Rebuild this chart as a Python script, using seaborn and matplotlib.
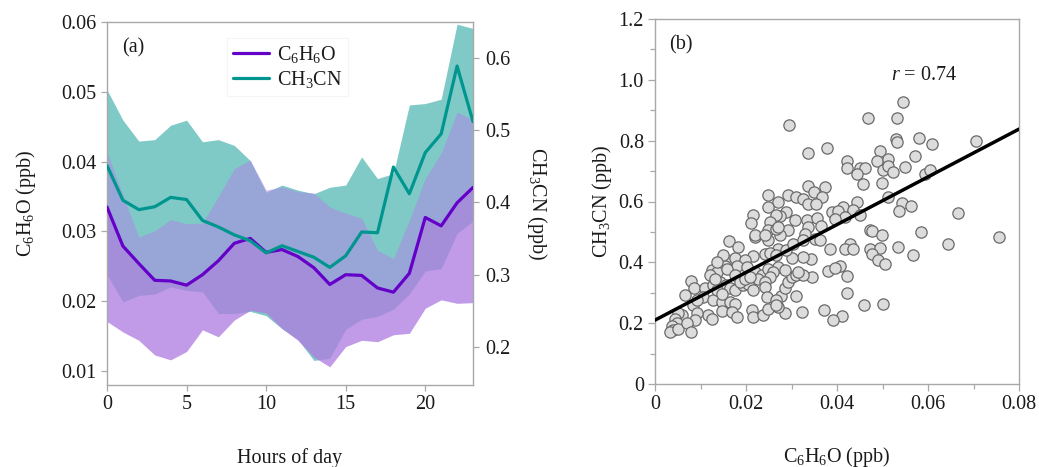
import numpy as np
import pandas as pd
import matplotlib
matplotlib.use("Agg")
import matplotlib.pyplot as plt
from matplotlib.ticker import MultipleLocator, FuncFormatter
import seaborn as sns

# ---------------- data: panel (a) diurnal cycle ----------------
hours = list(range(24))
c6_mean = [0.0335, 0.0279, 0.0254, 0.0230, 0.0229, 0.0223, 0.0238, 0.0258, 0.0283, 0.0290, 0.0270, 0.0274,
           0.0264, 0.0248, 0.0224, 0.0238, 0.0237, 0.0219, 0.0213, 0.0240, 0.0320, 0.0308, 0.0341, 0.0363]
c6_hi = [0.0414, 0.0352, 0.0292, 0.0301, 0.0317, 0.0311, 0.0312, 0.0350, 0.0390, 0.0402, 0.0359, 0.0364,
         0.0357, 0.0355, 0.0335, 0.0326, 0.0319, 0.0273, 0.0261, 0.0316, 0.0376, 0.0412, 0.0471, 0.0460]
c6_lo = [0.0171, 0.0156, 0.0144, 0.0123, 0.0116, 0.0128, 0.0159, 0.0149, 0.0173, 0.0187, 0.0183, 0.0161,
         0.0144, 0.0120, 0.0106, 0.0135, 0.0144, 0.0142, 0.0152, 0.0154, 0.0190, 0.0202, 0.0197, 0.0198]
cn_mean = [0.451, 0.403, 0.390, 0.394, 0.407, 0.404, 0.375, 0.366, 0.355, 0.347, 0.330, 0.340,
           0.332, 0.324, 0.310, 0.326, 0.359, 0.358, 0.449, 0.412, 0.469, 0.495, 0.589, 0.512]
cn_hi = [0.556, 0.514, 0.485, 0.487, 0.507, 0.514, 0.484, 0.487, 0.479, 0.458, 0.414, 0.424,
         0.417, 0.412, 0.421, 0.424, 0.463, 0.433, 0.440, 0.535, 0.537, 0.543, 0.647, 0.641]
cn_lo = [0.300, 0.262, 0.271, 0.273, 0.283, 0.278, 0.276, 0.246, 0.246, 0.249, 0.243, 0.225,
         0.210, 0.181, 0.184, 0.224, 0.238, 0.242, 0.252, 0.273, 0.305, 0.308, 0.357, 0.374]

# ---------------- data: panel (b) scatter ----------------
scatter_x = [
    0.0546, 0.0469, 0.0531, 0.0530, 0.0531, 0.0580, 0.0609, 0.0705, 0.0495, 0.0571, 0.0421, 0.0487, 0.0513,
    0.0451, 0.0462, 0.0421, 0.0443, 0.0502, 0.0513, 0.0524, 0.0549, 0.0593, 0.0604, 0.0498, 0.0458, 0.0513,
    0.0542, 0.0562, 0.0537, 0.0443, 0.0414, 0.0436, 0.0451, 0.0667, 0.0755, 0.0473, 0.0478, 0.0498, 0.0585,
    0.0643, 0.0429, 0.0418, 0.0436, 0.0473, 0.0495, 0.0476, 0.0535, 0.0568, 0.0491, 0.0505, 0.0407, 0.0421,
    0.0421, 0.0459, 0.0500, 0.0410,
    0.0295, 0.0337, 0.0377, 0.0337, 0.0374, 0.0293, 0.0309, 0.0326, 0.0350, 0.0366, 0.0337, 0.0353, 0.0271,
    0.0289, 0.0275, 0.0308, 0.0333, 0.0357, 0.0388, 0.0403, 0.0418, 0.0396, 0.0365, 0.0337, 0.0293, 0.0275,
    0.0330,
    0.0385, 0.0381, 0.0396, 0.0372, 0.0392, 0.0322, 0.0286, 0.0271, 0.0309, 0.0278, 0.0286, 0.0293, 0.0301,
    0.0309, 0.0344, 0.0326, 0.0315, 0.0271, 0.0286, 0.0343, 0.0326, 0.0301, 0.0271, 0.0289, 0.0304, 0.0326,
    0.0352, 0.0363,
    0.0163, 0.0183, 0.0220, 0.0249, 0.0216, 0.0242, 0.0253, 0.0267, 0.0158, 0.0176, 0.0198, 0.0154, 0.0180,
    0.0202, 0.0125, 0.0136, 0.0158, 0.0220, 0.0235, 0.0249, 0.0260, 0.0227, 0.0253, 0.0242, 0.0079, 0.0086,
    0.0067, 0.0110, 0.0128, 0.0143, 0.0155, 0.0165, 0.0176, 0.0194, 0.0205, 0.0216, 0.0242, 0.0246, 0.0267,
    0.0106, 0.0128, 0.0147, 0.0165, 0.0176, 0.0084, 0.0092, 0.0147, 0.0169, 0.0117, 0.0125, 0.0092, 0.0088,
    0.0059, 0.0051, 0.0044, 0.0048, 0.0037, 0.0040, 0.0033, 0.0051, 0.0070, 0.0079, 0.0180, 0.0213, 0.0216,
    0.0238, 0.0249, 0.0267, 0.0176, 0.0187, 0.0198, 0.0136, 0.0147, 0.0121, 0.0132,
    0.0249, 0.0249, 0.0216, 0.0211, 0.0267, 0.0253, 0.0249, 0.0220, 0.0267,
    0.0271, 0.0242, 0.0150, 0.0136, 0.0209,
]
scatter_y = [
    0.928, 0.874, 0.874, 0.806, 0.797, 0.809, 0.789, 0.798, 0.767, 0.751, 0.734, 0.734, 0.740,
    0.710, 0.710, 0.710, 0.691, 0.702, 0.718, 0.696, 0.712, 0.691, 0.704, 0.661, 0.656, 0.616,
    0.594, 0.585, 0.568, 0.598, 0.581, 0.572, 0.554, 0.563, 0.483, 0.505, 0.503, 0.489, 0.499,
    0.461, 0.461, 0.443, 0.445, 0.445, 0.448, 0.426, 0.450, 0.423, 0.407, 0.396, 0.387, 0.354,
    0.299, 0.261, 0.264, 0.223,
    0.851, 0.759, 0.775, 0.652, 0.649, 0.620, 0.616, 0.608, 0.631, 0.615, 0.592, 0.592, 0.598,
    0.565, 0.551, 0.540, 0.538, 0.546, 0.565, 0.570, 0.549, 0.543, 0.518, 0.516, 0.505, 0.489,
    0.492,
    0.443, 0.370, 0.381, 0.243, 0.210, 0.237, 0.235, 0.253, 0.290, 0.290, 0.316, 0.336, 0.352,
    0.360, 0.352, 0.360, 0.368, 0.385, 0.374, 0.410, 0.417, 0.415, 0.443, 0.439, 0.461, 0.472,
    0.478, 0.475,
    0.469, 0.450, 0.483, 0.472, 0.421, 0.428, 0.432, 0.423, 0.407, 0.414, 0.407, 0.388, 0.388,
    0.385, 0.374, 0.368, 0.379, 0.368, 0.357, 0.379, 0.368, 0.346, 0.352, 0.335, 0.339, 0.314,
    0.292, 0.314, 0.327, 0.335, 0.327, 0.314, 0.308, 0.325, 0.330, 0.308, 0.319, 0.286, 0.275,
    0.286, 0.275, 0.270, 0.270, 0.264, 0.259, 0.275, 0.239, 0.237, 0.226, 0.215, 0.232, 0.210,
    0.226, 0.232, 0.215, 0.202, 0.191, 0.177, 0.170, 0.180, 0.202, 0.172, 0.221, 0.243, 0.221,
    0.226, 0.248, 0.259, 0.357, 0.335, 0.346, 0.308, 0.297, 0.357, 0.346,
    0.620, 0.581, 0.554, 0.529, 0.554, 0.532, 0.505, 0.489, 0.510,
    0.516, 0.489, 0.423, 0.401, 0.352,
]
fit_x = [0.0, 0.08]
fit_y = [0.210, 0.838]
r_text = "0.74"

x_ticks_a = [0, 5, 10, 15, 20]
y_ticks_left = [0.01, 0.02, 0.03, 0.04, 0.05, 0.06]
y_ticks_right = [0.2, 0.3, 0.4, 0.5, 0.6]
x_ticks_b = [0, 0.02, 0.04, 0.06, 0.08]
y_ticks_b = [0, 0.2, 0.4, 0.6, 0.8, 1.0, 1.2]

# ---------------- style ----------------
sns.set_theme(style="white")
plt.rcParams["font.family"] = ["Liberation Serif", "DejaVu Serif"]
plt.rcParams["mathtext.fontset"] = "custom"
plt.rcParams["mathtext.rm"] = "Liberation Serif"
plt.rcParams["mathtext.it"] = "Liberation Serif:italic"
plt.rcParams["mathtext.bf"] = "Liberation Serif:bold"

FS = 14.5
GREY = "#A8A8A8"
TXT = "#1a1a1a"
PURPLE = "#6400C8"
TEAL = "#00968F"

fig = plt.figure(figsize=(10.39, 4.67), dpi=100)
W, H = 1039, 467
ax1 = fig.add_axes([107 / W, 1 - 385 / H, 366 / W, 363 / H])
axb = fig.add_axes([655 / W, 1 - 384 / H, 364 / W, 365 / H])

ax2 = ax1.twinx()  # CH3CN band
ax3 = ax1.twinx()  # CH3CN line (on top)
ax2.set_zorder(1)
ax1.set_zorder(2)
ax3.set_zorder(3)
ax1.patch.set_visible(False)
ax3.patch.set_visible(False)

# teal band
ax2.fill_between(hours, cn_lo, cn_hi, color=TEAL, alpha=0.5, lw=0)
# purple band (two halves around the mean)
ax1.fill_between(hours, c6_lo, c6_mean, color="#B07DE1", alpha=0.77, lw=0)
ax1.fill_between(hours, c6_mean, c6_hi, color="#A88EE3", alpha=0.6, lw=0)

sns.lineplot(x=hours, y=c6_mean, ax=ax1, color=PURPLE, lw=2.3, zorder=5, label="C$_6$H$_6$O", legend=False)
sns.lineplot(x=hours, y=cn_mean, ax=ax3, color=TEAL, lw=2.3, zorder=5, label="CH$_3$CN", legend=False)

ax1.set_xlim(0, 23)
ax1.set_ylim(0.008, 0.06)
ax2.set_ylim(0.147, 0.65)
ax3.set_ylim(0.147, 0.65)
ax1.set_xticks(x_ticks_a)
ax1.set_yticks(y_ticks_left)
ax1.yaxis.set_major_formatter(FuncFormatter(lambda v, p: f"{v:.2f}"))
ax2.set_yticks(y_ticks_right)
ax2.yaxis.set_major_formatter(FuncFormatter(lambda v, p: f"{v:.1f}"))
ax3.axis("off")

for sp in ax1.spines.values():
    sp.set_color(GREY)
    sp.set_linewidth(1.0)
for sp in ax2.spines.values():
    sp.set_visible(False)

ax1.tick_params(axis="both", which="major", direction="out", length=4.5, width=0.9, color=GREY,
                labelsize=FS, labelcolor=TXT, left=True, bottom=True, pad=3)
ax2.tick_params(axis="y", which="major", direction="out", length=4.5, width=0.9, color=GREY,
                labelsize=FS, labelcolor=TXT, right=True, pad=4)

ax1.set_xlabel("Hours of day", fontsize=FS, color=TXT, labelpad=24)
ax1.set_ylabel("C$_6$H$_6$O (ppb)", fontsize=FS, color=TXT, labelpad=17)
ax2.set_ylabel("CH$_3$CN (ppb)", fontsize=FS, color=TXT, rotation=270, labelpad=28)

ax1.text(0.04, 0.93, "(a)", transform=ax1.transAxes, fontsize=FS, color=TXT, va="center", ha="left")

h1 = ax1.get_lines()[0]
h3 = ax3.get_lines()[0]
leg = ax3.legend([h1, h3], ["C$_6$H$_6$O", "CH$_3$CN"], loc="upper left", bbox_to_anchor=(0.30, 0.985),
                 fontsize=FS, frameon=True, handlelength=1.8, handletextpad=0.4, labelspacing=0.2,
                 borderpad=0.3, fancybox=False)
leg.get_frame().set_edgecolor("#F2F2F2")
leg.get_frame().set_linewidth(0.8)
for t in leg.get_texts():
    t.set_color(TXT)

# ---------------- panel (b) ----------------
df = pd.DataFrame({"C6H6O": scatter_x, "CH3CN": scatter_y})
sns.scatterplot(data=df, x="C6H6O", y="CH3CN", ax=axb, s=66, color="#DCDCDC", edgecolor="#6A6A6A",
                linewidth=0.9, zorder=3)
sns.lineplot(x=fit_x, y=fit_y, ax=axb, color="black", lw=2.5, zorder=4)

axb.set_xlim(0, 0.08)
axb.set_ylim(0, 1.2)
axb.set_xticks(x_ticks_b)
axb.set_yticks(y_ticks_b)
axb.xaxis.set_minor_locator(MultipleLocator(0.01))
axb.yaxis.set_minor_locator(MultipleLocator(0.1))
axb.xaxis.set_major_formatter(FuncFormatter(lambda v, p: "0" if abs(v) < 1e-12 else f"{v:.2f}"))
axb.yaxis.set_major_formatter(FuncFormatter(lambda v, p: "0" if abs(v) < 1e-12 else f"{v:.1f}"))
for sp in axb.spines.values():
    sp.set_color(GREY)
    sp.set_linewidth(1.0)
axb.tick_params(axis="both", which="major", direction="out", length=5, width=0.9, color=GREY,
                labelsize=FS, labelcolor=TXT, left=True, bottom=True, pad=3)
axb.tick_params(axis="both", which="minor", direction="out", length=3.5, width=0.9, color=GREY,
                left=True, bottom=True)
axb.set_xlabel("C$_6$H$_6$O (ppb)", fontsize=FS, color=TXT, labelpad=22)
axb.set_ylabel("CH$_3$CN (ppb)", fontsize=FS, color=TXT, labelpad=3)
axb.text(0.04, 0.93, "(b)", transform=axb.transAxes, fontsize=FS, color=TXT, va="center", ha="left")
axb.text(0.0591, 1.013, "$r$ = " + r_text, fontsize=FS, color=TXT, va="center", ha="center")

fig.savefig("out.png", dpi=100)
